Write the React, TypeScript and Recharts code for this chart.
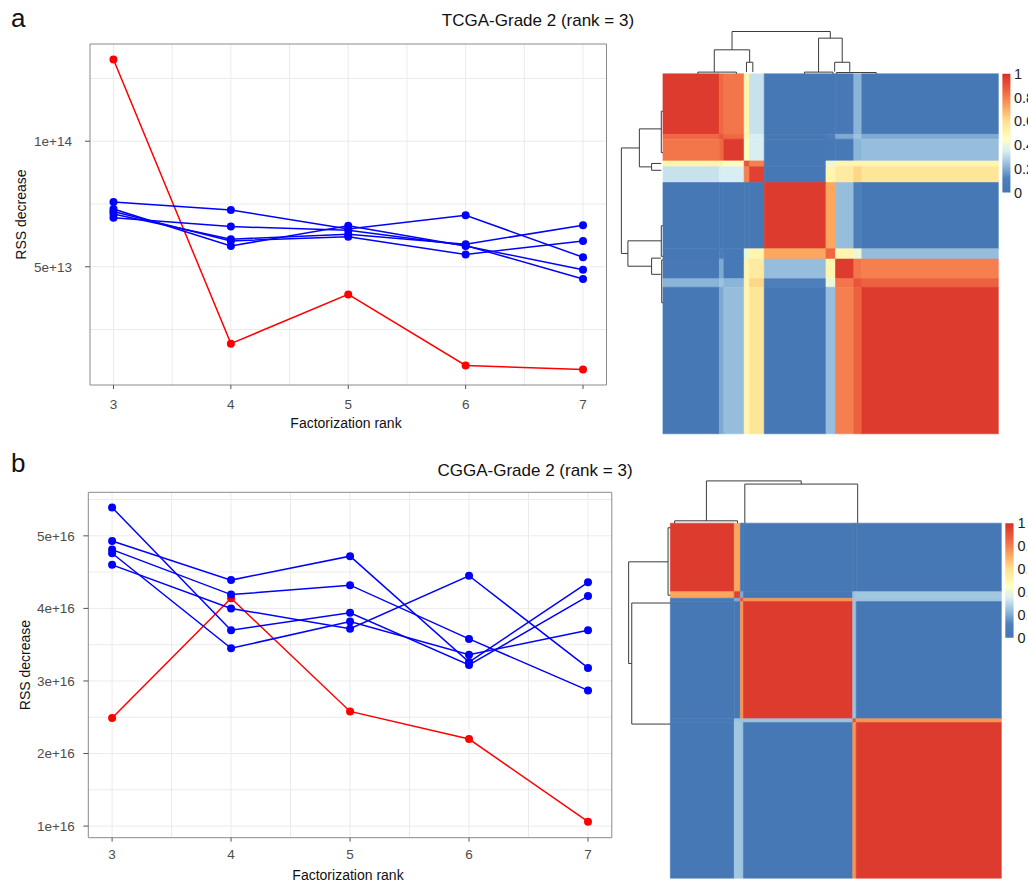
import React from 'react'
import {
  LineChart, Line, XAxis, YAxis, CartesianGrid, ReferenceArea, ReferenceLine, ReferenceDot, ComposedChart,
} from 'recharts'

const RANKS = [3, 4, 5, 6, 7]

// TCGA grade 2 runs
const TCGA_BEST = [1.325e14, 1.94e13, 3.9e13, 1.07e13, 9.1e12]
const TCGA_RUNS = [
  [7.58e13, 7.26e13, 6.5e13, 7.05e13, 5.38e13],
  [6.95e13, 6.6e13, 6.45e13, 5.85e13, 4.51e13],
  [7.1e13, 6.1e13, 6.3e13, 5.9e13, 6.65e13],
  [7.2e13, 6.03e13, 6.2e13, 5.49e13, 6.03e13],
  [7.3e13, 5.83e13, 6.63e13, 5.83e13, 4.88e13],
]
const TCGA_TICKS = [5e13, 1e14]
const TCGA_TICK_TEXT = ['5e+13', '1e+14']
const TCGA_GRID = [2.5e13, 5e13, 7.5e13, 1e14, 1.25e14]

// CGGA grade 2 runs
const CGGA_BEST = [2.49e16, 4.14e16, 2.58e16, 2.2e16, 1.06e16]
const CGGA_RUNS = [
  [5.39e16, 3.7e16, 3.94e16, 3.22e16, 4.17e16],
  [4.93e16, 4.39e16, 4.72e16, 3.26e16, 4.36e16],
  [4.81e16, 4.19e16, 4.32e16, 3.58e16, 2.87e16],
  [4.6e16, 4.0e16, 3.72e16, 4.45e16, 3.18e16],
  [4.76e16, 3.45e16, 3.82e16, 3.36e16, 3.7e16],
]
const CGGA_TICKS = [1e16, 2e16, 3e16, 4e16, 5e16]
const CGGA_TICK_TEXT = ['1e+16', '2e+16', '3e+16', '4e+16', '5e+16']
const CGGA_GRID = [1e16, 1.5e16, 2e16, 2.5e16, 3e16, 3.5e16, 4e16, 4.5e16, 5e16, 5.5e16]

const RANK_GRID = [3, 3.5, 4, 4.5, 5, 5.5, 6, 6.5, 7]

// consensus matrices: block edges (percent of samples) and block values
const TCGA_EDGES = [0, 16.8, 18.15, 24.2, 25.8, 30.2, 48.6, 51.45, 56.9, 59.3, 100]
const TCGA_CONSENSUS = [
  [0.97, 0.85, 0.82, 0.5, 0.32, 0.03, 0.03, 0.04, 0.22, 0.03],
  [0.85, 0.9, 0.85, 0.5, 0.35, 0.03, 0.1, 0.2, 0.25, 0.2],
  [0.82, 0.85, 0.97, 0.45, 0.35, 0.03, 0.05, 0.05, 0.22, 0.24],
  [0.5, 0.5, 0.45, 0.9, 0.8, 0.05, 0.4, 0.5, 0.5, 0.5],
  [0.32, 0.35, 0.35, 0.8, 0.95, 0.03, 0.5, 0.55, 0.62, 0.57],
  [0.03, 0.03, 0.03, 0.05, 0.03, 0.97, 0.72, 0.24, 0.12, 0.03],
  [0.03, 0.1, 0.05, 0.4, 0.5, 0.72, 0.85, 0.5, 0.4, 0.24],
  [0.04, 0.2, 0.05, 0.5, 0.55, 0.24, 0.5, 0.97, 0.82, 0.8],
  [0.22, 0.25, 0.22, 0.5, 0.62, 0.12, 0.4, 0.82, 0.9, 0.87],
  [0.03, 0.2, 0.24, 0.5, 0.57, 0.03, 0.24, 0.8, 0.87, 0.97],
]
// dendrogram merges: lo/hi leaf position, merge height, child heights (relative to root)
const TCGA_TREE = [
  { lo: 20.6, hi: 49.9, h: 1, hLo: 0.567, hHi: 0.843 },
  { lo: 15.3, hi: 25.85, h: 0.567, hLo: 0.04, hHi: 0.273 },
  { lo: 24.9, hi: 26.8, h: 0.273, hLo: 0.04, hHi: 0.04 },
  { lo: 46.4, hi: 53.45, h: 0.843, hLo: 0.04, hHi: 0.273 },
  { lo: 51.2, hi: 55.7, h: 0.273, hLo: 0.05, hHi: 0.05 },
  { lo: 10.4, hi: 21.9, h: 0.04, hLo: 0, hHi: 0 },
  { lo: 42.2, hi: 50.7, h: 0.04, hLo: 0, hHi: 0 },
  { lo: 51.7, hi: 63.6, h: 0.03, hLo: 0, hHi: 0 },
]

const CGGA_EDGES = [0, 19.3, 21.15, 22.1, 55.1, 56.15, 100]
const CGGA_CONSENSUS = [
  [0.97, 0.72, 0.03, 0.03, 0.03, 0.03],
  [0.72, 0.95, 0.2, 0.03, 0.25, 0.26],
  [0.03, 0.2, 0.9, 0.76, 0.25, 0.25],
  [0.03, 0.03, 0.76, 0.97, 0.25, 0.03],
  [0.03, 0.25, 0.25, 0.25, 0.9, 0.76],
  [0.03, 0.26, 0.25, 0.03, 0.76, 0.97],
]
const CGGA_TREE = [
  { lo: 10.9, hi: 39.55, h: 1, hLo: 0.055, hHi: 0.925 },
  { lo: 1.3, hi: 20.3, h: 0.055, hLo: 0, hHi: 0 },
  { lo: 22.5, hi: 56.6, h: 0.925, hLo: 0, hHi: 0 },
]

const LEGEND_TICKS = [1, 0.8, 0.6, 0.4, 0.2, 0]
const LEGEND_TEXT = ['1', '0.8', '0.6', '0.4', '0.2', '0']

// reversed RdYlBu ramp
const RAMP: [number, string][] = [
  [0, '#4575b4'], [0.12, '#4d7fba'], [0.22, '#8ab5d8'], [0.35, '#d9eef3'], [0.45, '#ffffbf'],
  [0.6, '#fee090'], [0.72, '#fca65e'], [0.85, '#f06744'], [1, '#d73027'],
]

const hex = (c: string) => [1, 3, 5].map(i => parseInt(c.slice(i, i + 2), 16))

function heat(v: number) {
  for (let k = 1; k < RAMP.length; k++) {
    const [v1, c1] = RAMP[k]
    const [v0, c0] = RAMP[k - 1]
    if (v <= v1) {
      const t = (v - v0) / (v1 - v0)
      const a = hex(c0), b = hex(c1)
      const m = a.map((x, i) => Math.round(x + (b[i] - x) * t))
      return `rgb(${m[0]},${m[1]},${m[2]})`
    }
  }
  return RAMP[RAMP.length - 1][1]
}

const AXIS_TEXT = { fontSize: 13.5, fill: '#4d4d4d' }

function RankChart({ best, runs, domain, ticks, tickText, grid, box, tickMargin }: any) {
  const rows = RANKS.map((rank, i) => {
    const row: any = { rank, best: best[i] }
    runs.forEach((s: number[], k: number) => { row[`run${k}`] = s[i] })
    return row
  })
  return (
    <div style={{ position: 'absolute', left: 0, top: box.top }}>
      <LineChart width={620} height={box.height} data={rows} margin={box.margin}>
        <CartesianGrid stroke="#ebebeb" strokeWidth={1} verticalValues={RANK_GRID} horizontalValues={grid} />
        <XAxis dataKey="rank" type="number" domain={[2.8, 7.2]} ticks={RANKS} allowDataOverflow
          axisLine={false} tickLine={{ stroke: '#555' }} tickSize={4} tickMargin={box.xm} height={box.xh} tick={AXIS_TEXT} />
        <YAxis type="number" domain={domain} ticks={ticks} allowDataOverflow width={60}
          tickFormatter={(v: number) => tickText[ticks.indexOf(v)]}
          axisLine={false} tickLine={{ stroke: '#555' }} tickSize={5} tickMargin={tickMargin} tick={AXIS_TEXT} />
        <Line dataKey="best" stroke="#ff0000" strokeWidth={1.5} isAnimationActive={false}
          dot={{ r: 4, fill: '#ff0000', stroke: '#ff0000', strokeWidth: 0 }} activeDot={false} />
        {runs.map((_: number[], k: number) => (
          <Line key={k} dataKey={`run${k}`} stroke="#0000ff" strokeWidth={1.5} isAnimationActive={false}
            dot={{ r: 4, fill: '#0000ff', stroke: '#0000ff', strokeWidth: 0 }} activeDot={false} />
        ))}
        <ReferenceArea x1={2.8} x2={7.2} y1={domain[0]} y2={domain[1]} fill="none" fillOpacity={0}
          stroke="#8a8a8a" strokeWidth={1} />
      </LineChart>
    </div>
  )
}

function ConsensusMap({ edges, values, tree, layout, gradId }: any) {
  const { left, top, sx, sy, xDomain, yDomain, depthTop, depthLeft, bar } = layout
  const width = (xDomain[1] - xDomain[0]) * sx
  const height = (yDomain[1] - yDomain[0]) * sy
  const cells: React.ReactNode[] = []
  values.forEach((row: number[], i: number) => row.forEach((v, j) => {
    const c = heat(v)
    cells.push(
      <ReferenceArea key={`c${i}-${j}`} x1={edges[j]} x2={edges[j + 1]} y1={edges[i]} y2={edges[i + 1]}
        fill={c} fillOpacity={1} stroke={c} strokeWidth={0.6} />
    )
  }))
  const branches: React.ReactNode[] = []
  const line = (key: string, a: any, b: any) => (
    <ReferenceLine key={key} segment={[a, b]} stroke="#3a3a3a" strokeWidth={1} />
  )
  tree.forEach((n: any, k: number) => {
    const t = (h: number) => -depthTop * h
    const l = (h: number) => -depthLeft * h
    branches.push(line(`t${k}a`, { x: n.lo, y: t(n.h) }, { x: n.hi, y: t(n.h) }))
    branches.push(line(`t${k}b`, { x: n.lo, y: t(n.h) }, { x: n.lo, y: t(n.hLo) }))
    branches.push(line(`t${k}c`, { x: n.hi, y: t(n.h) }, { x: n.hi, y: t(n.hHi) }))
    branches.push(line(`l${k}a`, { x: l(n.h), y: n.lo }, { x: l(n.h), y: n.hi }))
    branches.push(line(`l${k}b`, { x: l(n.h), y: n.lo }, { x: l(n.hLo), y: n.lo }))
    branches.push(line(`l${k}c`, { x: l(n.h), y: n.hi }, { x: l(n.hHi), y: n.hi }))
  })
  // gradient runs top (1) to bottom (0), so stops go in descending value order
  const stops = [...RAMP].reverse()
  return (
    <div style={{ position: 'absolute', left, top }}>
      <ComposedChart width={width} height={height} margin={{ top: 0, right: 0, bottom: 0, left: 0 }}>
        <defs>
          <linearGradient id={gradId} x1="0" y1="0" x2="0" y2="1">
            {stops.map(([v, c]) => <stop key={v} offset={`${(1 - v) * 100}%`} stopColor={c} />)}
          </linearGradient>
        </defs>
        <XAxis type="number" dataKey="x" domain={xDomain} allowDataOverflow hide />
        <YAxis type="number" dataKey="y" domain={yDomain} allowDataOverflow reversed hide />
        {cells}
        {branches}
        <ReferenceArea x1={bar.x1} x2={bar.x2} y1={0} y2={bar.len} fill={`url(#${gradId})`} fillOpacity={1} stroke="none" />
        {LEGEND_TICKS.map((v, i) => (
          <ReferenceDot key={v} x={bar.x2} y={bar.len * (1 - v)} r={1} fill="none" stroke="none"
            label={{ value: LEGEND_TEXT[i], position: 'right', offset: bar.gap, fontSize: 14.5, fill: '#222' }} />
        ))}
      </ComposedChart>
    </div>
  )
}

const TCGA_MAP = {
  left: 663.3 - 14 * 3.354, top: 73.3 - 13 * 3.6, sx: 3.354, sy: 3.6,
  xDomain: [-14, 109], yDomain: [-13, 102], depthTop: 11.75, depthLeft: 12.4,
  bar: { x1: 101.2, x2: 103.6, len: 33, gap: 2.5 },
}
const CGGA_MAP = {
  left: 670 - 14 * 3.31, top: 523.3 - 13 * 3.55, sx: 3.31, sy: 3.55,
  xDomain: [-14, 108], yDomain: [-13, 101], depthTop: 11.9, depthLeft: 12.6,
  bar: { x1: 101.2, x2: 103.7, len: 32.3, gap: 3 },
}

export default function App() {
  return (
    <div style={{
      position: 'absolute', left: 0, top: 0, width: 1028, height: 884, overflow: 'hidden',
      background: '#fff', fontFamily: '"Liberation Sans", Arial, sans-serif',
    }}>
      <RankChart best={TCGA_BEST} runs={TCGA_RUNS} domain={[2.93e12, 1.387e14]} ticks={TCGA_TICKS}
        tickText={TCGA_TICK_TEXT} grid={TCGA_GRID} tickMargin={13}
        box={{ top: 0, height: 440, xh: 45, xm: 10.5, margin: { top: 44, right: 13.5, left: 30, bottom: 10 } }} />
      <RankChart best={CGGA_BEST} runs={CGGA_RUNS} domain={[0.84e16, 5.6e16]} ticks={CGGA_TICKS}
        tickText={CGGA_TICK_TEXT} grid={CGGA_GRID} tickMargin={8.5}
        box={{ top: 445, height: 439, xh: 40, xm: 8, margin: { top: 47.3, right: 8.2, left: 28.3, bottom: 6.3 } }} />
      <ConsensusMap edges={TCGA_EDGES} values={TCGA_CONSENSUS} tree={TCGA_TREE} layout={TCGA_MAP} gradId="rampA" />
      <ConsensusMap edges={CGGA_EDGES} values={CGGA_CONSENSUS} tree={CGGA_TREE} layout={CGGA_MAP} gradId="rampB" />
      <svg width={1028} height={884} style={{ position: 'absolute', left: 0, top: 0, pointerEvents: 'none' }}>
        <text x={11} y={27} fontSize={26} fill="#111">a</text>
        <text x={11} y={472} fontSize={26} fill="#111">b</text>
        <text x={538} y={26} fontSize={17} textAnchor="middle" fill="#111">TCGA-Grade 2 (rank = 3)</text>
        <text x={535} y={476} fontSize={17} textAnchor="middle" fill="#111">CGGA-Grade 2 (rank = 3)</text>
        <text x={346} y={427.5} fontSize={14} textAnchor="middle" fill="#111">Factorization rank</text>
        <text x={348} y={880} fontSize={14} textAnchor="middle" fill="#111">Factorization rank</text>
        <text x={21} y={214.5} fontSize={14} textAnchor="middle" dominantBaseline="central" fill="#111"
          transform="rotate(-90 21 214.5)">RSS decrease</text>
        <text x={24.5} y={665} fontSize={14} textAnchor="middle" dominantBaseline="central" fill="#111"
          transform="rotate(-90 24.5 665)">RSS decrease</text>
      </svg>
    </div>
  )
}
